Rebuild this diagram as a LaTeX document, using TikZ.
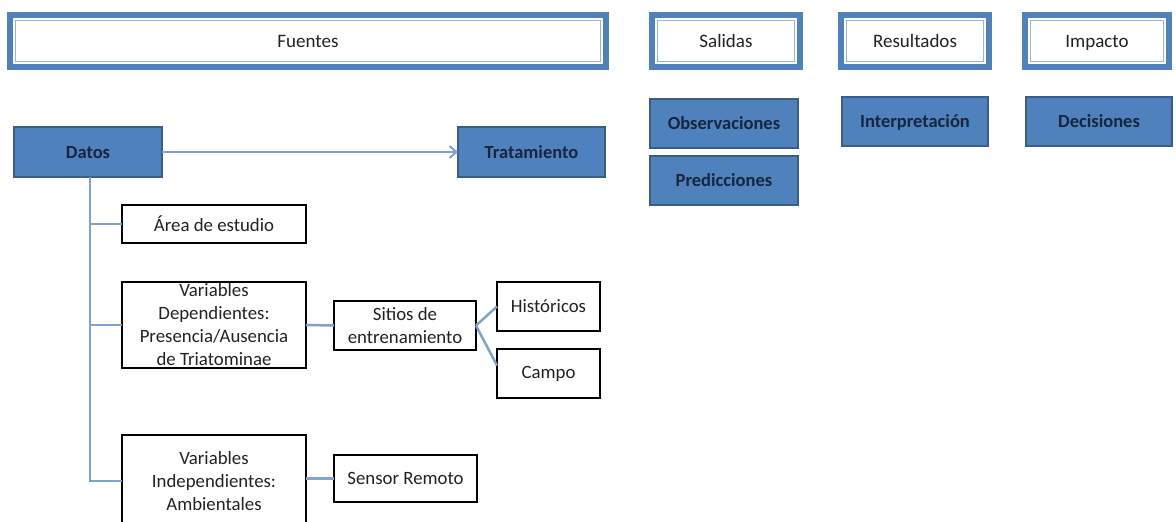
\documentclass[tikz,border=0pt]{standalone}
\usepackage{fontspec}
\setmainfont{Carlito}
\usetikzlibrary{arrows.meta}
\definecolor{hdrblue}{HTML}{4F81BD}
\definecolor{boxblue}{HTML}{4F81BD}
\definecolor{boxedge}{HTML}{3A5E8C}
\definecolor{linkblue}{HTML}{7EA3D0}
\definecolor{navy}{HTML}{17263F}
\definecolor{txt}{HTML}{222222}
\tikzset{
  hdr/.style={draw=hdrblue, line width=6pt, fill=white, inner sep=0pt, outer sep=0pt,
    font=\fontsize{19}{23}\selectfont, text=txt, text height=16.5pt, text depth=4pt},
  hdrinner/.style={draw=linkblue!80, line width=1.5pt},
  bluebox/.style={draw=boxedge, line width=2pt, fill=boxblue, inner sep=0pt, outer sep=0pt,
    font=\fontsize{18.5}{22}\selectfont\bfseries, text=navy, text height=16.5pt, text depth=4pt},
  whitebox/.style={draw=black, line width=1.2pt, fill=white, inner sep=0pt, outer sep=0pt,
    font=\fontsize{18.8}{23}\selectfont, text=txt, align=center},
  link/.style={draw=linkblue, line width=2.5pt},
}
\begin{document}
\begin{tikzpicture}[x=1pt, y=-1pt]
\useasboundingbox (0,0) rectangle (1176,522);
% header boxes
\node[hdr, minimum width=596pt, minimum height=52pt] (fuentes) at (308,41) {Fuentes};
\node[hdr, minimum width=148pt, minimum height=52pt] (salidas) at (726,41) {Salidas};
\node[hdr, minimum width=148pt, minimum height=52pt] (resultados) at (915,41) {Resultados};
\node[hdr, minimum width=144pt, minimum height=52pt] (impacto) at (1097,41) {Impacto};
\foreach \n in {fuentes,salidas,resultados,impacto}
  \draw[hdrinner] ([shift={(5.5pt,-5.5pt)}]\n.north west) rectangle ([shift={(-5.5pt,5.5pt)}]\n.south east);
% blue boxes
\node[bluebox, minimum width=148pt, minimum height=50pt] (datos) at (88,152) {Datos};
\node[bluebox, minimum width=147pt, minimum height=50pt] (tratamiento) at (531.5,152) {Tratamiento};
\node[bluebox, minimum width=148pt, minimum height=49pt] (obs) at (724,123.5) {Observaciones};
\node[bluebox, minimum width=148pt, minimum height=49pt] (pred) at (724,180.5) {Predicciones};
\node[bluebox, minimum width=146pt, minimum height=49pt] (interp) at (915,121.5) {Interpretación};
\node[bluebox, minimum width=146pt, minimum height=49pt] (decis) at (1099,121.5) {Decisiones};
% white boxes
\node[whitebox, minimum width=184pt, minimum height=38pt] (area) at (214,224) {Área de estudio};
\node[whitebox, minimum width=184pt, minimum height=86pt] (vdep) at (214,325) {Variables\\Dependientes:\\Presencia/Ausencia\\de Triatominae};
\node[whitebox, minimum width=142pt, minimum height=49pt] (sitios) at (405,325.5) {Sitios de\\entrenamiento};
\node[whitebox, minimum width=103pt, minimum height=49pt] (hist) at (548.5,306.5) {Históricos};
\node[whitebox, minimum width=103pt, minimum height=49pt] (campo) at (548.5,373.5) {Campo};
\node[whitebox, minimum width=184pt, minimum height=92pt] (vind) at (214,481) {Variables\\Independientes:\\Ambientales};
\node[whitebox, minimum width=143pt, minimum height=47pt] (sensor) at (405.5,478.5) {Sensor Remoto};
% connectors
\coordinate (tk) at (90,0);
\draw[link, -{Straight Barb[length=7pt,width=12pt,line width=2pt]}] (datos.east) -- (tratamiento.west);
\draw[link] (datos.south -| tk) |- (vind.west);
\draw[link] (area.west -| tk) -- (area.west);
\draw[link] (vdep.west -| tk) -- (vdep.west);
\draw[link] (vdep.east) -- (sitios.west);
\draw[link] (sitios.east) -- (hist.west);
\draw[link] (sitios.east) -- ([yshift=8pt]campo.west);
\draw[link] (vind.east |- sensor.west) -- (sensor.west);
\end{tikzpicture}
\end{document}
